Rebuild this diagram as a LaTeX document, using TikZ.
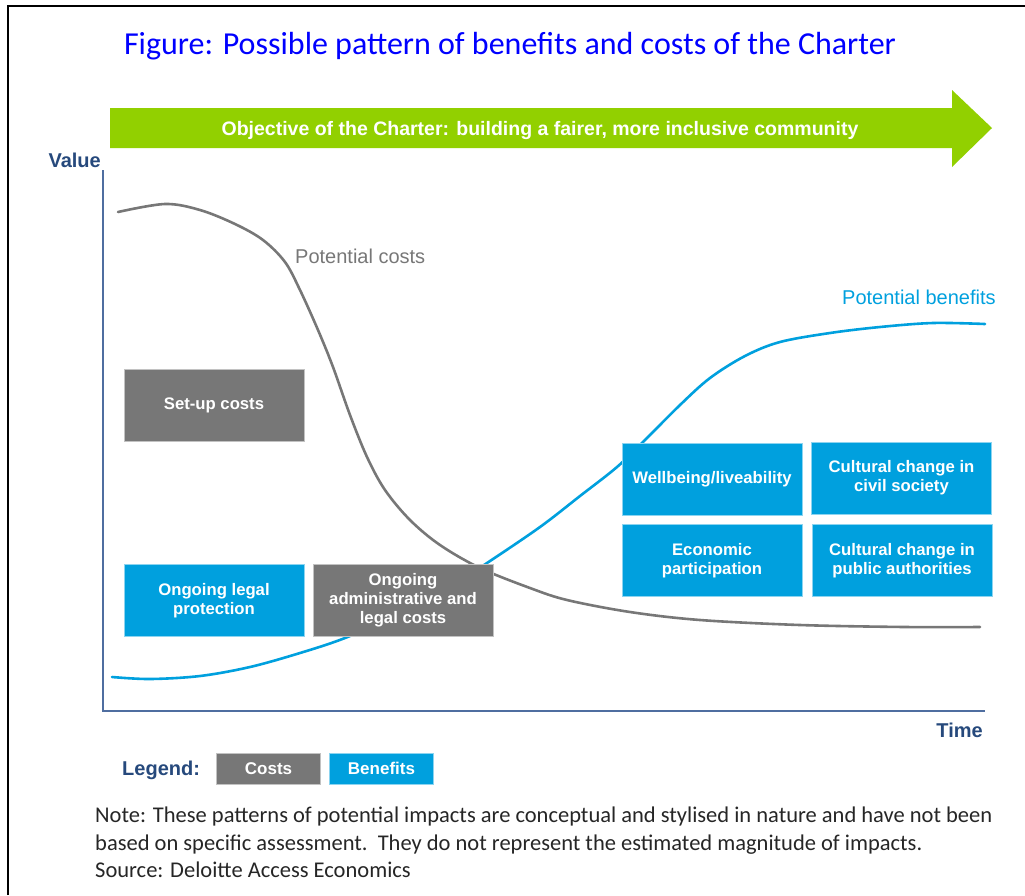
\documentclass[tikz,border=0pt]{standalone}
\usepackage{fontspec}
\setmainfont{Liberation Sans}
\newfontfamily\calibri{Carlito}
\definecolor{costgray}{HTML}{777777}
\definecolor{benblue}{HTML}{00A0DE}
\definecolor{arrowgreen}{HTML}{92D000}
\definecolor{axisblue}{HTML}{4F6EA0}
\definecolor{labelblue}{HTML}{26497C}
\definecolor{titleblue}{RGB}{0,0,255}
\definecolor{notegray}{HTML}{262626}
\begin{document}
\begin{tikzpicture}
    [x=1pt, y=-1pt,
     box/.style={draw=white!55!#1, line width=0.8pt, fill=#1, text=white, align=center,
                 font=\bfseries\fontsize{16.7}{19}\selectfont, minimum width=180pt, minimum height=72pt, inner sep=2pt},
     legendbox/.style={box=#1, minimum width=104pt, minimum height=31pt, font=\bfseries\fontsize{17}{19}\selectfont},
     axislabel/.style={text=labelblue, font=\bfseries\fontsize{20}{22}\selectfont, inner sep=0pt},
     curvelabel/.style={font=\fontsize{20}{22}\selectfont, inner sep=0pt},
     note/.style={text=notegray, font=\calibri\fontsize{22.5}{27.5}\selectfont, inner sep=0pt, anchor=base west}]
    \useasboundingbox (0,0) rectangle (1025,895);
    % frame
    \draw[line width=2pt] (8,895) -- (8,6) -- (1025,6);
    % title
    \node[text=titleblue, font=\calibri\fontsize{32}{36}\selectfont, anchor=base] (title) at (510,54)
        {Figure: Possible pattern of benefits and costs of the Charter};
    % objective arrow
    \fill[arrowgreen] (110,108) -- (952,108) -- (952,90) -- (992,128) -- (952,167) -- (952,148) -- (110,148) -- cycle;
    \node[text=white, font=\bfseries\fontsize{19.5}{22}\selectfont, anchor=base] (objective) at (540,135)
        {Objective of the Charter: building a fairer, more inclusive community};
    % axes
    \coordinate (O) at (103,711);
    \coordinate (ytop) at (103,170);
    \coordinate (xend) at (985,711);
    \draw[axisblue, line width=1.5pt] (ytop) -- (O) -- (xend);
    \node[axislabel, anchor=base east] (value) at (101,167) {Value};
    \node[axislabel, anchor=base east] (time) at (983,737) {Time};
    % curves
    \draw[costgray, line width=2.6pt, line cap=round] plot[smooth, tension=0.55] coordinates {
        (118,212) (165,204) (200,210) (235,224) (263,240) (285,262) (300,290) (318,330) (333,367)
        (350,415) (367,457) (385,490) (410,520) (440,545) (480,568) (530,588) (567,600) (630,612)
        (700,620) (800,625) (905,627) (980,627)};
    \draw[benblue, line width=2.6pt, line cap=round] plot[smooth, tension=0.55] coordinates {
        (112,677) (150,679) (200,676) (250,667) (300,653) (345,638) (400,614) (445,590) (487,563)
        (540,527) (580,496) (617,467) (645,440) (680,405) (710,378) (745,356) (780,342) (830,333)
        (880,327) (933,323) (985,324)};
    \node[curvelabel, text=costgray, anchor=base west] (costlabel) at (295,263) {Potential costs};
    \node[curvelabel, text=benblue, anchor=base west] (benlabel) at (842,304) {Potential benefits};
    % boxes
    \node[box=costgray] (setup)    at (214,405.5) {Set-up costs};
    \node[box=benblue]  (legal)    at (214,600.5) {Ongoing legal\\protection};
    \node[box=costgray] (admin)    at (403,600.5) {Ongoing\\administrative and\\legal costs};
    \node[box=benblue]  (wellbeing) at (712,479)  {Wellbeing/liveability};
    \node[box=benblue]  (civil)    at (901.5,478) {Cultural change in\\civil society};
    \node[box=benblue]  (economic) at (712,560.5) {Economic\\participation};
    \node[box=benblue]  (public)   at (902,560.5) {Cultural change in\\public authorities};
    % legend
    \node[axislabel, anchor=base west] (legend) at (122,775) {Legend:};
    \node[legendbox=costgray] (costkey) at (268.5,768.5) {Costs};
    \node[legendbox=benblue]  (benkey)  at (381.5,768.5) {Benefits};
    % note
    \node[note] (note1) at (95,822.7) {Note: These patterns of potential impacts are conceptual and stylised in nature and have not been};
    \node[note] (note2) at (95,850.2) {based on specific assessment.\ \ They do not represent the estimated magnitude of impacts.};
    \node[note] (note3) at (95,877.7) {Source: Deloitte Access Economics};
\end{tikzpicture}
\end{document}
